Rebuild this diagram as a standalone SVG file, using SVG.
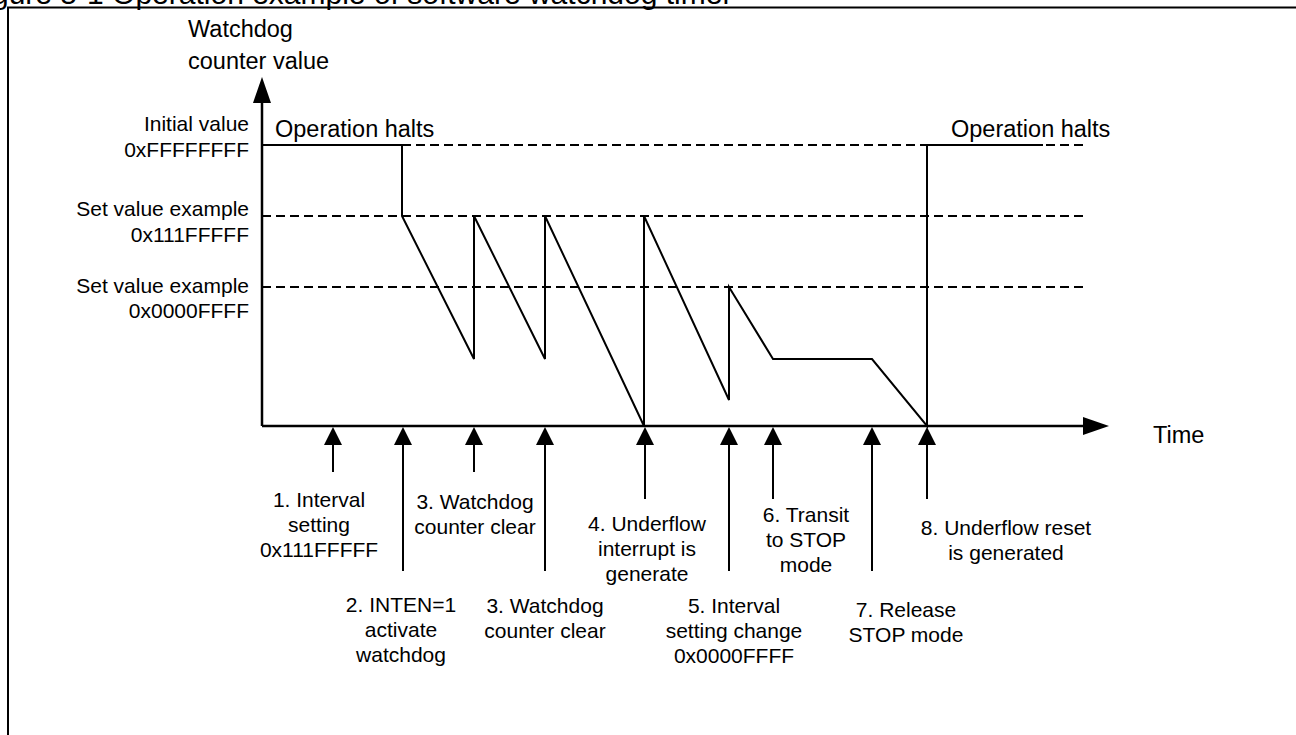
<svg xmlns="http://www.w3.org/2000/svg" width="1296" height="735" viewBox="0 0 1296 735">
  <style>
    text { font-family: "Liberation Sans", Arial, sans-serif; fill: #000; }
    .lbl { font-size: 21px; }
    .big { font-size: 23.5px; }
    .mid { text-anchor: middle; }
    .end { text-anchor: end; }
    .axis { stroke: #000; stroke-width: 2.5; fill: none; }
    .wave { stroke: #000; stroke-width: 2; fill: none; stroke-linejoin: miter; }
    .dash { stroke: #000; stroke-width: 2; stroke-dasharray: 9 5; fill: none; }
    .ev { stroke: #000; stroke-width: 2; fill: none; }
  </style>
  <defs>
    <polygon id="up" points="0,0 -9,18 9,18" fill="#000"/>
  </defs>

  <rect width="1296" height="735" fill="#fff"/>

  <!-- caption, clipped by the page top -->
  <text id="caption" x="-33" y="4" style="font-size:30px">Figure 5-1 Operation example of software watchdog timer</text>

  <!-- frame -->
  <path id="frame" d="M8,745 V7.5 H1310" fill="none" stroke="#000" stroke-width="2"/>

  <!-- axes -->
  <g id="axes">
    <line class="axis" x1="262" y1="426" x2="262" y2="100"/>
    <polygon points="262,77 253,103 271,103" fill="#000"/>
    <line class="axis" x1="262" y1="426" x2="1086" y2="426"/>
    <polygon points="1109,426 1083,417 1083,435" fill="#000"/>
    <text class="big" x="188" y="37">Watchdog</text>
    <text class="big" x="188" y="69">counter value</text>
    <text class="big" x="1153" y="443">Time</text>
  </g>

  <!-- reference levels -->
  <g id="levels">
    <line class="dash" x1="402" y1="145" x2="1085" y2="145"/>
    <line class="dash" x1="262" y1="216" x2="1085" y2="216"/>
    <line class="dash" x1="262" y1="287" x2="1085" y2="287"/>
    <text class="lbl end" x="249" y="131">Initial value</text>
    <text class="lbl end" x="249" y="157">0xFFFFFFFF</text>
    <text class="lbl end" x="249" y="216">Set value example</text>
    <text class="lbl end" x="249" y="242">0x111FFFFF</text>
    <text class="lbl end" x="249" y="293">Set value example</text>
    <text class="lbl end" x="249" y="318">0x0000FFFF</text>
  </g>

  <!-- counter trace -->
  <g id="trace">
    <polyline class="wave" points="262,145 402,145 402,216 474,359 474,216 545,359 545,216 644,426 644,216 729,400 729,287 773,359 872,359 927,426 927,145 1043,145"/>
    <text class="big" x="275" y="137">Operation halts</text>
    <text class="big" x="951" y="137">Operation halts</text>
  </g>

  <!-- event markers -->
  <g id="connectors">
    <line class="ev" x1="333" y1="440" x2="333" y2="472"/><use href="#up" x="333" y="427"/>
    <line class="ev" x1="403" y1="440" x2="403" y2="571"/><use href="#up" x="403" y="427"/>
    <line class="ev" x1="474" y1="440" x2="474" y2="472"/><use href="#up" x="474" y="427"/>
    <line class="ev" x1="545" y1="440" x2="545" y2="571"/><use href="#up" x="545" y="427"/>
    <line class="ev" x1="645" y1="440" x2="645" y2="499"/><use href="#up" x="645" y="427"/>
    <line class="ev" x1="729" y1="440" x2="729" y2="571"/><use href="#up" x="729" y="427"/>
    <line class="ev" x1="773" y1="440" x2="773" y2="499"/><use href="#up" x="773" y="427"/>
    <line class="ev" x1="872" y1="440" x2="872" y2="571"/><use href="#up" x="872" y="427"/>
    <line class="ev" x1="927" y1="440" x2="927" y2="499"/><use href="#up" x="927" y="427"/>
  </g>

  <g id="ev1" class="lbl mid">
    <text x="319" y="507">1. Interval</text>
    <text x="319" y="532">setting</text>
    <text x="319" y="557">0x111FFFFF</text>
  </g>
  <g id="ev2" class="lbl mid">
    <text x="401" y="612">2. INTEN=1</text>
    <text x="401" y="637">activate</text>
    <text x="401" y="662">watchdog</text>
  </g>
  <g id="ev3a" class="lbl mid">
    <text x="475" y="509">3. Watchdog</text>
    <text x="475" y="534">counter clear</text>
  </g>
  <g id="ev3b" class="lbl mid">
    <text x="545" y="613">3. Watchdog</text>
    <text x="545" y="638">counter clear</text>
  </g>
  <g id="ev4" class="lbl mid">
    <text x="647" y="531">4. Underflow</text>
    <text x="647" y="556">interrupt is</text>
    <text x="647" y="581">generate</text>
  </g>
  <g id="ev5" class="lbl mid">
    <text x="734" y="613">5. Interval</text>
    <text x="734" y="638">setting change</text>
    <text x="734" y="663">0x0000FFFF</text>
  </g>
  <g id="ev6" class="lbl mid">
    <text x="806" y="522">6. Transit</text>
    <text x="806" y="547">to STOP</text>
    <text x="806" y="572">mode</text>
  </g>
  <g id="ev7" class="lbl mid">
    <text x="906" y="617">7. Release</text>
    <text x="906" y="642">STOP mode</text>
  </g>
  <g id="ev8" class="lbl mid">
    <text x="1006" y="535">8. Underflow reset</text>
    <text x="1006" y="560">is generated</text>
  </g>
</svg>
